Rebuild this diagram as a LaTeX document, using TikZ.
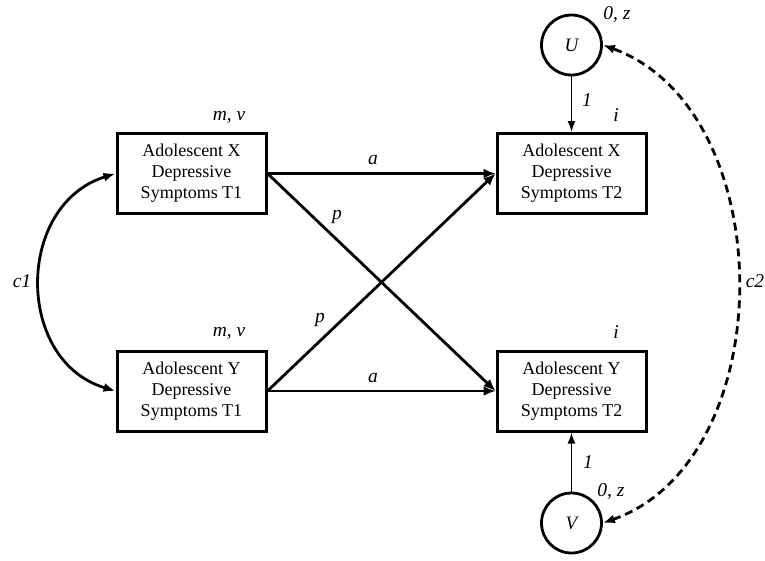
\documentclass[tikz,border=0pt]{standalone}
\usepackage{fontspec}
\setmainfont{Liberation Serif}
\usetikzlibrary{arrows.meta}
\begin{document}
\begin{tikzpicture}[x=1pt,y=-1pt,
  box/.style={draw, line width=3pt, minimum width=149pt, minimum height=80pt, inner sep=0pt, align=center, font=\fontsize{18}{21}\selectfont},
  lat/.style={draw, circle, line width=2.8pt, minimum size=60pt, inner sep=0pt, font=\fontsize{19}{21}\selectfont\itshape},
  lbl/.style={font=\fontsize{19.5}{21}\selectfont\itshape, inner sep=0pt},
  arr/.style={line width=2.8pt, -{Latex[length=12pt,width=10pt]}},
  thinarr/.style={line width=1.7pt, -{Latex[length=11pt,width=8pt]}},
  dblarr/.style={line width=2.8pt, {Latex[length=12pt,width=9pt]}-{Latex[length=12pt,width=9pt]}},
  dashcurve/.style={line width=2.8pt, dash pattern=on 8pt off 5pt, {Latex[length=12pt,width=9pt]}-{Latex[length=12pt,width=9pt]}}
]
\useasboundingbox (0,0) rectangle (765,560);

\node[box] (LX) at (191.5,173.5) {Adolescent X\\Depressive\\Symptoms T1};
\node[box] (LY) at (191.5,391) {Adolescent Y\\Depressive\\Symptoms T1};
\node[box] (RX) at (571.5,173.5) {Adolescent X\\Depressive\\Symptoms T2};
\node[box] (RY) at (571.5,391) {Adolescent Y\\Depressive\\Symptoms T2};
\node[lat] (U) at (571.5,45) {U};
\node[lat] (V) at (571.5,523) {V};

\draw[arr] (LX.east) -- (RX.west);
\draw[arr] (LY.east) -- (RY.west);
\draw[arr] (LX.east) -- (RY.west);
\draw[arr] (LY.east) -- (RX.west);
\draw[thinarr] (U.south) -- (RX.north);
\draw[thinarr] (V.north) -- (RY.south);
\draw[dblarr] (LX.west) .. controls (15,205) and (15,361) .. (LY.west);
\draw[dashcurve] (V.east) .. controls (782,460) and (782,110) .. (U.east);

\node[lbl] (mv1) at (229,117) {m, v};
\node[lbl] (mv2) at (229,333) {m, v};
\node[lbl] (i1) at (616,115) {i};
\node[lbl] (i2) at (616,332) {i};
\node[lbl] (one1) at (587,100) {1};
\node[lbl] (one2) at (588,462) {1};
\node[lbl] (oz1) at (617,15) {0, z};
\node[lbl] (oz2) at (611,492) {0, z};
\node[lbl] (a1) at (373,160) {a};
\node[lbl] (a2) at (373,378) {a};
\node[lbl] (p1) at (337,217) {p};
\node[lbl] (p2) at (320,320) {p};
\node[lbl] (c1) at (22,281) {c1};
\node[lbl] (c2) at (755,281) {c2};
\end{tikzpicture}
\end{document}
